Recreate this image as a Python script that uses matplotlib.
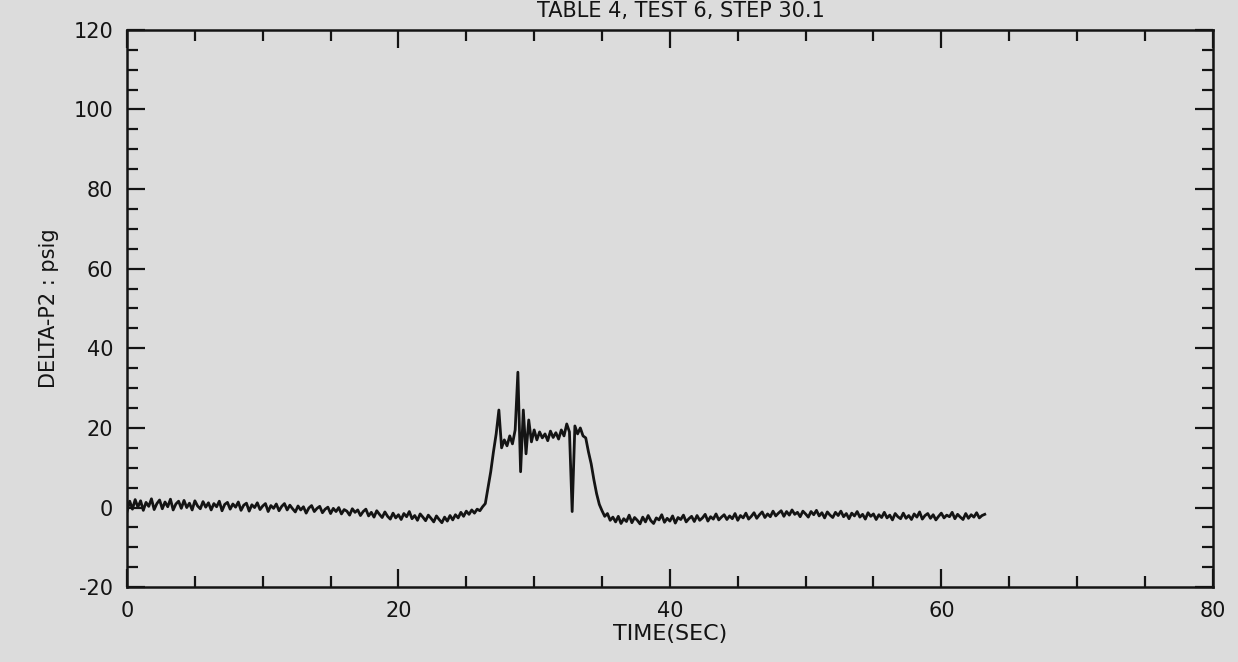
import numpy as np
import matplotlib.pyplot as plt
from matplotlib.ticker import MultipleLocator

plt.rcParams["axes.unicode_minus"] = False

step = 0.2
dp2 = [
    -1.0, 1.6, -0.4, 2.0, 0.1, 1.7, -0.7, 1.3, 0.3, 2.2,
    -0.5, 1.0, 1.9, -0.3, 1.4, 0.2, 2.1, -0.6, 0.9, 1.6,
    -0.2, 1.8, 0.0, 1.1, -0.6, 1.7, 0.4, -0.3, 1.5, 0.1,
    1.2, -0.6, 1.0, 0.2, 1.6, -0.8, 0.8, 1.3, -0.4, 0.9,
    0.1, 1.4, -0.7, 0.6, 1.1, -0.9, 0.7, 0.0, 1.2, -0.5,
    0.4, 1.0, -1.0, 0.5, -0.2, 0.9, -0.8, 0.3, 1.0, -0.6,
    0.6, -0.3, -1.1, 0.4, -0.6, 0.2, -1.4, -0.1, 0.5, -1.0,
    -0.2, 0.3, -1.3, -0.4, 0.1, -1.5, -0.2, -1.0, 0.0, -1.6,
    -0.5, -0.9, -1.9, -0.3, -1.2, -0.6, -2.0, -1.0, -0.4, -2.1,
    -1.2, -2.4, -0.8, -1.7, -2.5, -1.1, -2.2, -2.9, -1.4, -2.6,
    -1.8, -3.0, -1.5, -2.3, -1.0, -2.8, -2.0, -3.2, -1.6, -2.4,
    -3.3, -1.9, -2.7, -3.6, -2.1, -3.0, -3.8, -2.4, -3.4, -2.0,
    -3.1, -1.8, -2.6, -1.2, -2.2, -0.9, -1.7, -0.6, -1.4, -0.4,
    -0.8, 0.2, 1.0, 5.0, 9.0, 14.0, 18.5, 24.5, 15.0, 17.0,
    15.5, 18.0, 16.0, 19.5, 34.0, 9.0, 24.5, 13.5, 22.0, 16.5,
    19.5, 17.0, 19.0, 17.5, 18.5, 16.8, 19.2, 17.6, 18.8, 17.2,
    19.5, 18.0, 21.0, 19.0, -1.0, 20.5, 18.5, 20.0, 18.0, 17.5,
    14.0, 11.0, 7.0, 3.5, 0.8, -0.8, -2.2, -1.5, -3.2, -2.4,
    -3.6, -2.2, -4.0, -2.8, -3.5, -1.9, -3.8, -2.5, -3.2, -4.1,
    -2.4, -3.6, -2.0, -3.3, -4.0, -2.6, -3.1, -1.8, -3.7, -2.7,
    -3.4, -2.1, -3.9, -2.5, -3.0, -1.9, -3.6, -2.8, -2.2, -3.5,
    -2.0, -3.2, -2.6, -1.7, -3.4, -2.3, -2.9, -1.6, -3.1, -2.4,
    -1.8, -3.0, -2.1, -2.8, -1.5, -3.2, -2.0, -2.6, -1.4, -2.9,
    -2.2, -1.3, -2.7, -1.8, -1.1, -2.5, -1.6, -2.3, -0.9, -2.1,
    -1.4, -0.8, -2.2, -1.0, -1.9, -0.6, -1.7, -1.2, -2.3, -0.9,
    -1.6, -2.4, -1.0, -1.8, -0.7, -2.1, -1.3, -2.6, -1.1, -1.9,
    -2.5, -1.2, -2.0, -0.9, -2.3, -1.5, -2.8, -1.4, -2.1, -1.0,
    -2.4, -1.7, -2.9, -1.3, -2.2, -1.6, -3.0, -1.8, -2.5, -1.2,
    -2.6, -1.9, -3.1, -1.5, -2.3, -2.8, -1.4, -2.7, -2.0, -3.0,
    -1.6, -2.4, -1.1, -2.9, -2.0, -1.5, -2.7, -1.8, -3.1, -2.2,
    -1.4, -2.6, -1.9, -2.3, -1.2, -2.8, -1.7, -2.4, -3.0, -1.5,
    -2.7, -1.8, -2.4, -1.3, -2.6, -2.0, -1.7,
]
t = np.arange(len(dp2)) * step

xticks = [0, 20, 40, 60, 80]
yticks = [-20, 0, 20, 40, 60, 80, 100, 120]

bg = "#dcdcdc"
ink = "#141414"
fig = plt.figure(figsize=(12.38, 6.62), dpi=100, facecolor=bg)
ax = fig.add_axes([0.1026, 0.113, 0.877, 0.842], facecolor=bg)

ax.plot(t, dp2, color=ink, lw=2.0)

ax.set_xlim(0, 80)
ax.set_ylim(-20, 120)
ax.set_xticks(xticks)
ax.set_yticks(yticks)
ax.xaxis.set_minor_locator(MultipleLocator(5))
ax.yaxis.set_minor_locator(MultipleLocator(5))
ax.tick_params(which="both", direction="in", top=True, right=True,
               width=1.6, color=ink, labelsize=15, labelcolor=ink)
ax.tick_params(which="major", length=13, pad=10)
ax.tick_params(which="minor", length=8)
for s in ax.spines.values():
    s.set_linewidth(1.8)
    s.set_color(ink)

ax.set_xlabel("TIME(SEC)", fontsize=16, color=ink, labelpad=2)
ax.set_ylabel("DELTA-P2 : psig", fontsize=15, color=ink, labelpad=10)

# title sits in the strip above the frame (cut off in the scan)
fig.text(0.55, 0.999, "TABLE 4, TEST 6, STEP 30.1", ha="center", va="top",
         fontsize=15, color=ink)

fig.savefig("out.png", dpi=100, facecolor=bg)
